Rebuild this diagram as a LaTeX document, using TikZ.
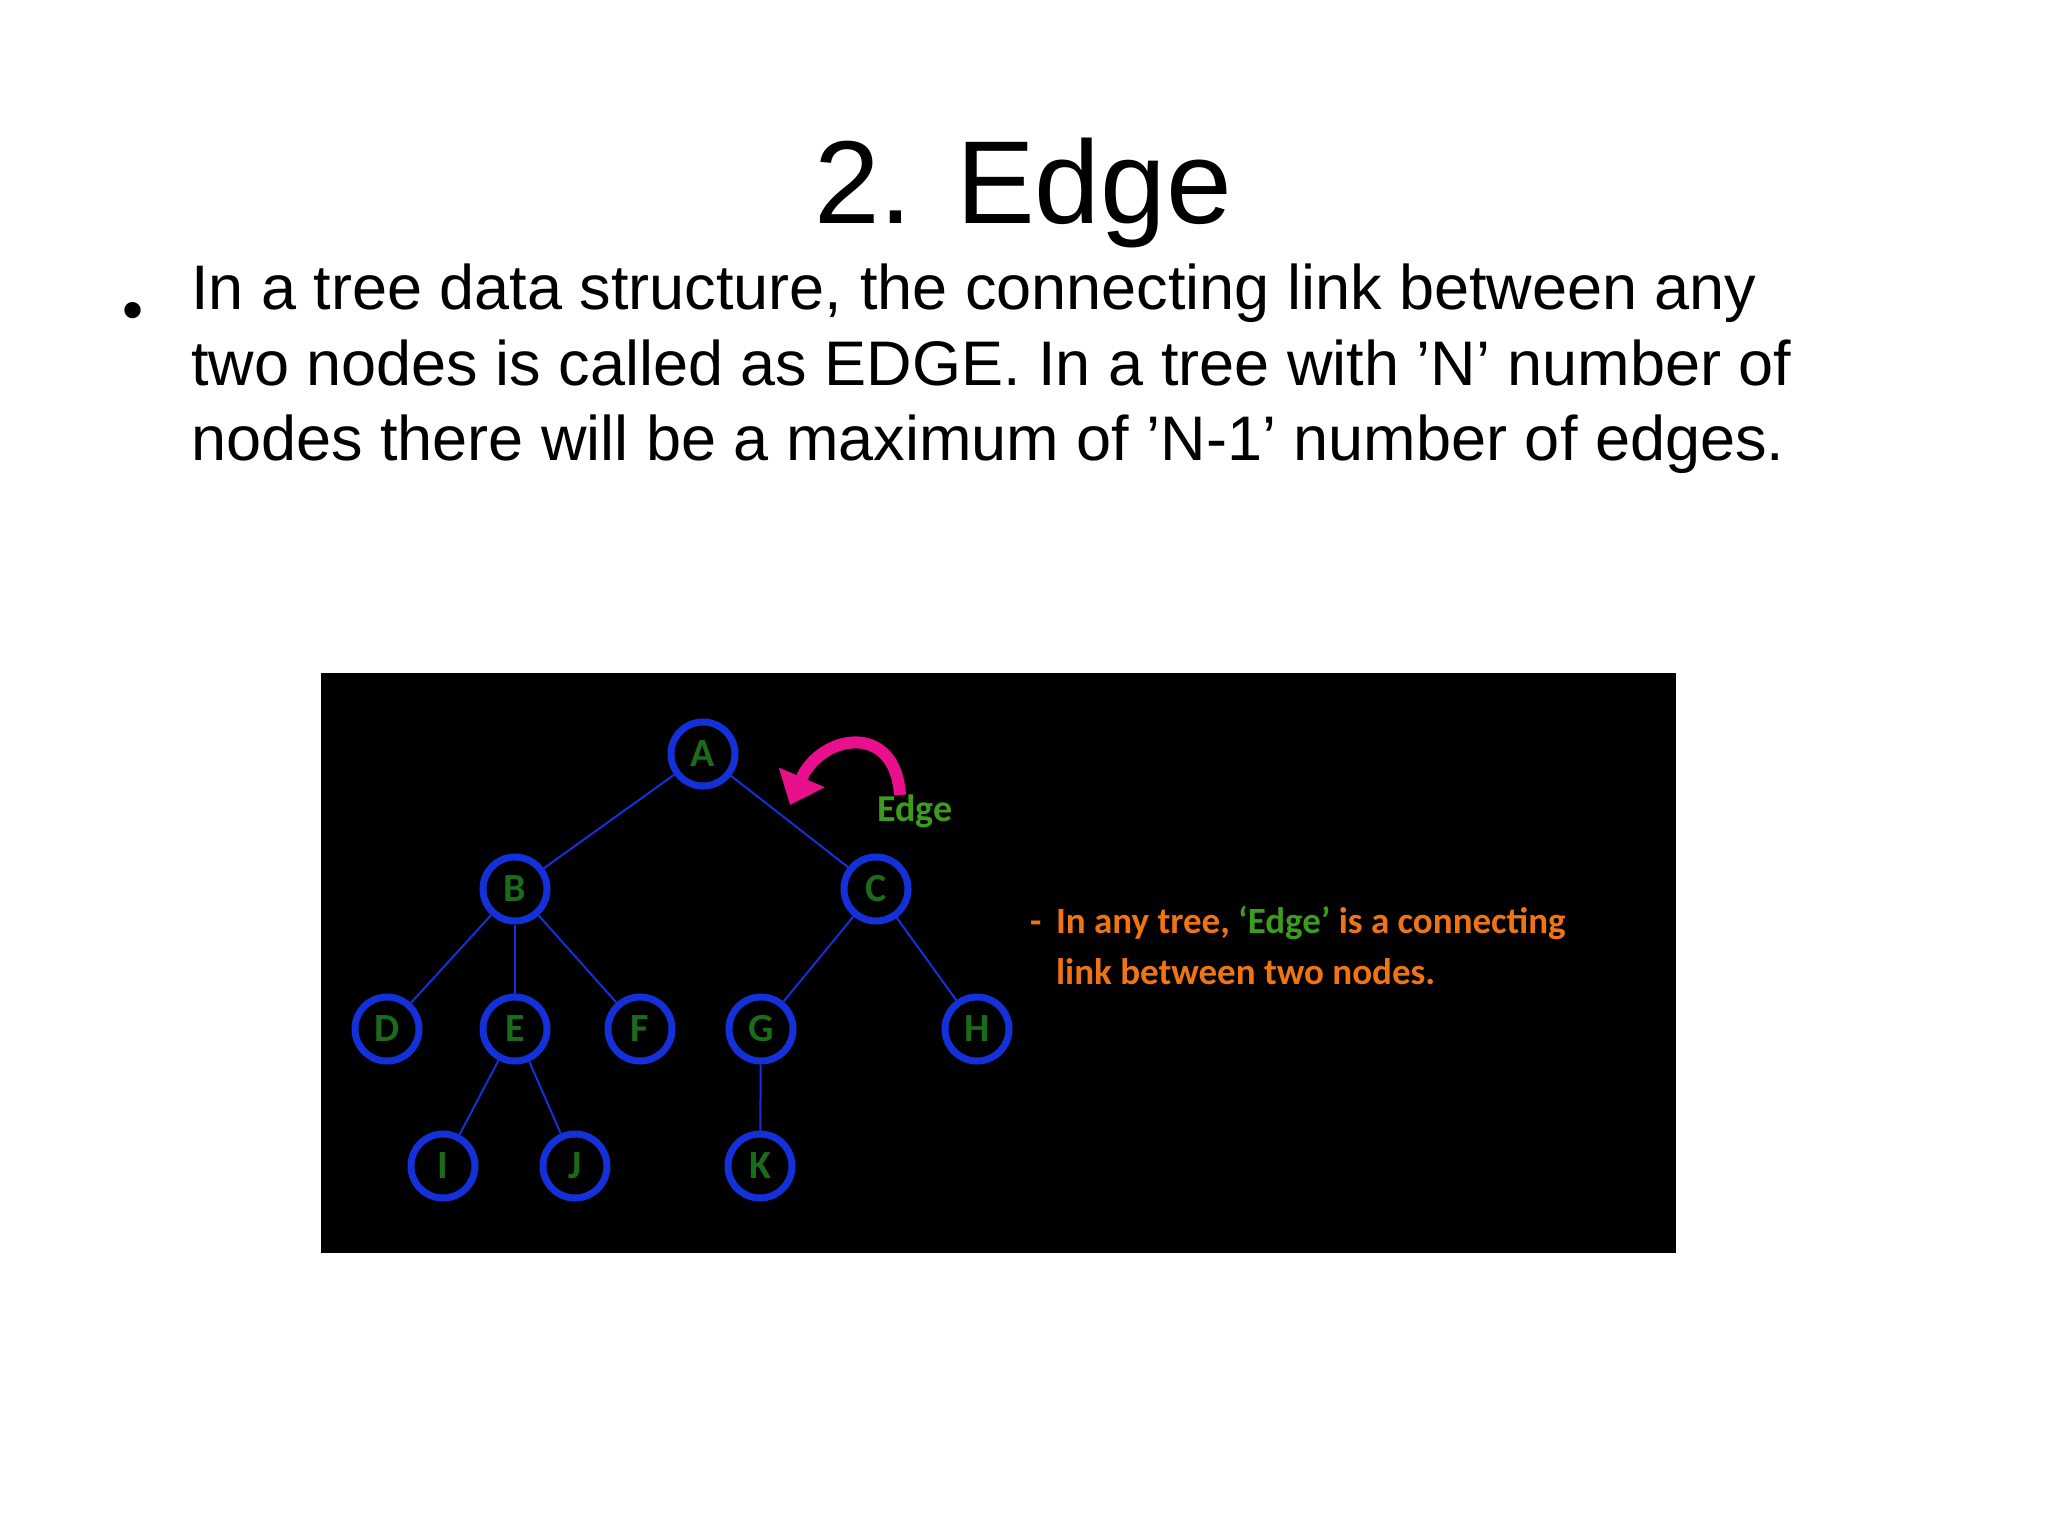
\documentclass[tikz,border=0pt]{standalone}
\usepackage{fontspec}
\setmainfont{Liberation Sans}
\newfontfamily\carl{Carlito}
\usetikzlibrary{arrows.meta}
\definecolor{nblue}{HTML}{1430D8}
\definecolor{ngreen}{HTML}{1A6B1A}
\definecolor{egreen}{HTML}{3C9C1E}
\definecolor{orng}{HTML}{F07414}
\definecolor{pnk}{HTML}{E8108C}
\begin{document}
\begin{tikzpicture}[x=1pt,y=-1pt,
  tn/.style={circle,draw=nblue,line width=7pt,minimum size=64pt,inner sep=0pt,text=ngreen,font=\carl\bfseries\fontsize{40}{40}\selectfont},
  ed/.style={nblue,line width=2pt}]
\useasboundingbox (0,0) rectangle (2048,1536);
\node[font=\fontsize{118}{118}\selectfont] (title) at (1023,193) {2. Edge};
\node[font=\fontsize{60}{60}\selectfont] (bul) at (133,316) {\textbullet};
\node[anchor=north west,align=left,inner sep=0pt,font=\fontsize{63}{75.5}\selectfont] (txt) at (191,264)
 {In a tree data structure, the connecting link between any\\two nodes is called as EDGE. In a tree with 'N' number of\\nodes there will be a maximum of 'N-1' number of edges.};
\fill (321,673) rectangle (1676,1253);
\node[tn] (A) at (703,754) {A};
\node[tn] (B) at (515,889) {B};
\node[tn] (C) at (876,889) {C};
\node[tn] (D) at (387,1029) {D};
\node[tn] (E) at (515,1029) {E};
\node[tn] (F) at (640,1029) {F};
\node[tn] (G) at (761,1029) {G};
\node[tn] (H) at (977,1029) {H};
\node[tn] (I) at (443,1166) {I};
\node[tn] (J) at (575,1166) {J};
\node[tn] (K) at (760,1166) {K};
\foreach \a/\b in {A/B,A/C,B/D,B/E,B/F,C/G,C/H,E/I,E/J,G/K}
  \draw[ed] (\a) -- (\b);
\coordinate (s) at (900,795);
\coordinate (t) at (790,805);
\draw[pnk,line width=12pt,-{Triangle[length=30pt,width=48pt]}] (s) .. controls (895,720) and (820,735) .. (t);
\node[text=egreen,font=\carl\bfseries\fontsize{38}{38}\selectfont] (el) at (915,811) {Edge};
\node[anchor=west,align=left,text=orng,inner sep=0pt,font=\carl\bfseries\fontsize{37}{51}\selectfont] (ot) at (1030,945)
 {-\, In any tree, \textcolor{egreen}{‘Edge’} is a connecting\\\hphantom{-\, }link between two nodes.};
\end{tikzpicture}
\end{document}
